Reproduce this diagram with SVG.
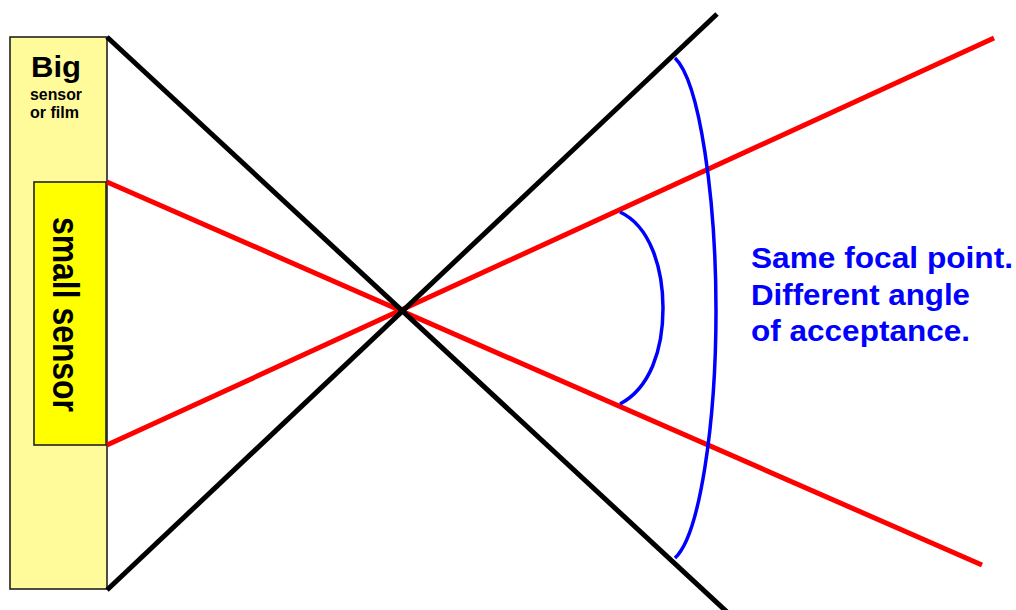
<svg xmlns="http://www.w3.org/2000/svg" width="1016" height="610" viewBox="0 0 1016 610">
<style>
.lbl{font-family:"Liberation Sans",Arial,sans-serif;font-weight:bold;}
.ray{fill:none;stroke-width:5;stroke-linecap:butt;}
.arc{fill:none;stroke:#0000FF;stroke-width:3.5;}
</style>
<rect width="1016" height="610" fill="#FFFFFF"/>
<g id="big-sensor">
<rect x="10" y="37" width="97" height="552" fill="#FFFB9B" stroke="#222222" stroke-width="1.6"/>
<text class="lbl" x="31" y="77" font-size="30" textLength="50" lengthAdjust="spacingAndGlyphs">Big</text>
<text class="lbl" x="30" y="100" font-size="16" textLength="52" lengthAdjust="spacingAndGlyphs">sensor</text>
<text class="lbl" x="30" y="118" font-size="16" textLength="49" lengthAdjust="spacingAndGlyphs">or film</text>
</g>
<g id="small-sensor">
<rect x="34" y="182" width="72" height="263" fill="#FFFF00" stroke="#222222" stroke-width="1.6"/>
<text class="lbl" transform="translate(53,217) rotate(90)" x="0" y="0" font-size="36" textLength="195" lengthAdjust="spacingAndGlyphs">small sensor</text>
</g>
<g id="connectors">
<line class="ray" stroke="#FF0000" x1="107" y1="182" x2="982" y2="565"/>
<line class="ray" stroke="#FF0000" x1="107" y1="445" x2="994" y2="38"/>
<line class="ray" stroke="#000000" x1="107" y1="37" x2="727" y2="612"/>
<line class="ray" stroke="#000000" x1="107" y1="590" x2="717" y2="14"/>
<path class="arc" d="M675,58 C700,82 716,200 716,311 C716,422 700,535 675,558"/>
<path class="arc" d="M620,212 C650,226 663,268 663,308 C663,350 650,388 620,404"/>
</g>
<g id="caption" fill="#0000FF">
<text class="lbl" x="751" y="268" font-size="30" textLength="262" lengthAdjust="spacingAndGlyphs">Same focal point.</text>
<text class="lbl" x="751" y="305" font-size="30" textLength="219" lengthAdjust="spacingAndGlyphs">Different angle</text>
<text class="lbl" x="751" y="341" font-size="30" textLength="219" lengthAdjust="spacingAndGlyphs">of acceptance.</text>
</g>
</svg>
